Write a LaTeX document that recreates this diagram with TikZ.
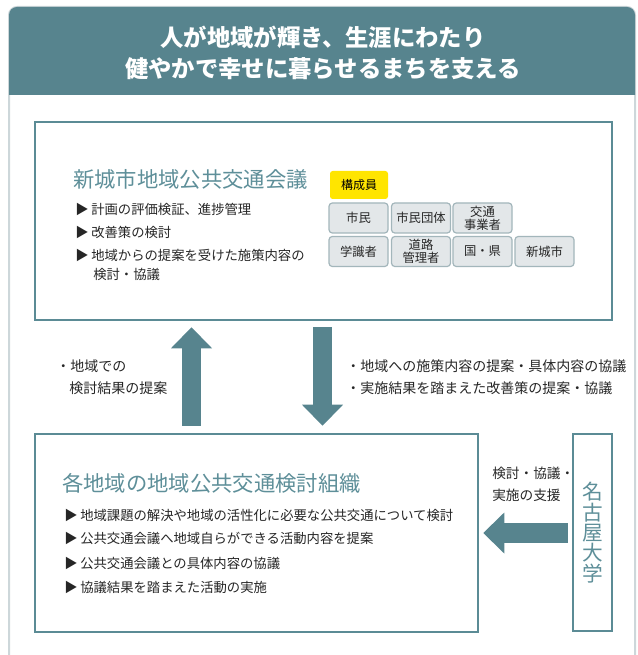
\documentclass[tikz,border=0pt]{standalone}
\usepackage{fontspec}
\setmainfont{Noto Sans CJK JP}
\usetikzlibrary{arrows.meta,positioning,calc}
\definecolor{nsTeal}{HTML}{57848E}
\definecolor{nsLine}{HTML}{5B8B95}
\definecolor{nsTitle}{HTML}{5E8F99}
\definecolor{nsFrame}{HTML}{CDD7DA}
\definecolor{nsGray}{HTML}{E3E7E9}
\definecolor{nsGrayLine}{HTML}{A3B6BB}
\definecolor{nsYellow}{HTML}{FFE500}
\definecolor{nsText}{HTML}{262626}
\newdimen\pxu \pxu=0.75pt
\newcommand{\bulmark}{▶\hspace{2pt}}
\tikzset{
  frameline/.style={draw=nsFrame, line width=1.5pt},
  headtext/.style={text=white, align=center, inner sep=0pt, font=\fontsize{17.5}{23.25}\selectfont\bfseries},
  orgbox/.style={draw=nsLine, line width=1.9pt, fill=white, inner sep=0pt},
  keybox/.style={fill=nsYellow, rounded corners=2pt, minimum width=58\pxu, minimum height=28\pxu, inner sep=0pt, font=\fontsize{9}{9.75}\selectfont},
  member/.style={draw=nsGrayLine, fill=nsGray, rounded corners=2.5pt, line width=0.9pt, minimum width=59\pxu, minimum height=30\pxu, inner sep=0pt, align=center, text=nsText, font=\fontsize{9.25}{9.75}\selectfont},
  titletext/.style={anchor=west, inner sep=0pt, text=nsTitle, font=\fontsize{16}{16}\selectfont},
  bul/.style={anchor=west, inner sep=0pt, text=nsText, font=\fontsize{10}{12}\selectfont},
  note/.style={anchor=west, inner sep=0pt, text=nsText, font=\fontsize{10.5}{12}\selectfont},
  blockarr/.style={draw=nsTeal, line width=14.25pt, -{Triangle[length=15.75pt, width=30.75pt, line width=0pt]}}
}
\begin{document}
\begin{tikzpicture}[x=0.75pt,y=-0.75pt]
  \useasboundingbox (0,0) rectangle (637,655);
  % frame and goal header
  \draw[frameline, rounded corners=6pt] (9,670) -- (9,7) -- (635,7) -- (635,670);
  \fill[nsTeal] (9,95) [rounded corners=6pt] -- (9,7) -- (635,7) [sharp corners] -- (635,95) -- cycle;
  \node[headtext] (goal) at (323,52.5) {人が地域が輝き、生涯にわたり\\健やかで幸せに暮らせるまちを支える};

  % council
  \node[orgbox, minimum width=577\pxu, minimum height=198\pxu] (council) at (323.5,221) {};
  \node[titletext] (ctitle) at (73,179) {新城市地域公共交通会議};
  \node[bul] (c1) at (75,209) {\bulmark 計画の評価検証、進捗管理};
  \node[bul] (c2) at (75,232) {\bulmark 改善策の検討};
  \node[bul] (c3) at (75,255) {\bulmark 地域からの提案を受けた施策内容の};
  \node[bul] (c3b) at (93,274) {検討・協議};

  \node[keybox] (mem) at (359,185) {構成員};
  \foreach \nm/\xx/\yy/\txt in {citizen/358.5/218/市民, group/421/218/市民団体, operator/482.5/218/{交通\\事業者},
      expert/358.5/251.5/学識者, road/421/251.5/{道路\\管理者}, gov/482.5/251.5/国・県, city/544.5/251.5/新城市}
    \node[member] (\nm) at (\xx,\yy) {\txt};

  % local organisation
  \node[orgbox, minimum width=443\pxu, minimum height=198\pxu] (local) at (256.5,533) {};
  \node[titletext] (ltitle) at (62,483) {各地域の地域公共交通検討組織};
  \node[bul] (l1) at (64,515) {\bulmark 地域課題の解決や地域の活性化に必要な公共交通について検討};
  \node[bul] (l2) at (64,538) {\bulmark 公共交通会議へ地域自らができる活動内容を提案};
  \node[bul] (l3) at (64,563) {\bulmark 公共交通会議との具体内容の協議};
  \node[bul] (l4) at (64,587) {\bulmark 協議結果を踏まえた活動の実施};

  % university
  \node[orgbox, minimum width=39\pxu, minimum height=197\pxu, align=center, text=nsTitle, font=\fontsize{15.5}{15.25}\selectfont] (nagoya) at (592.5,532.5) {名\\古\\屋\\大\\学};

  % block arrows
  \coordinate (upx) at (191.5,0);
  \coordinate (downx) at (322.5,0);
  \coordinate (lefty) at (0,533);
  \draw[blockarr, shorten <=5.25pt, shorten >=4.5pt] (upx |- local.north) -- (upx |- council.south);
  \draw[blockarr, shorten <=4.5pt, shorten >=5.25pt] (downx |- council.south) -- (downx |- local.north);
  \draw[blockarr, line width=15pt, shorten <=3pt, shorten >=3pt] (nagoya.west |- lefty) -- (local.east |- lefty);

  \node[note] (up1) at (56,366) {・地域での};
  \node[note] (up2) at (69,388) {検討結果の提案};
  \node[note] (dn1) at (346,366) {・地域への施策内容の提案・具体内容の協議};
  \node[note] (dn2) at (346,388) {・実施結果を踏まえた改善策の提案・協議};
  \node[note, font=\fontsize{10.25}{12}\selectfont] (sup1) at (492,473) {検討・協議・};
  \node[note, font=\fontsize{10.25}{12}\selectfont] (sup2) at (492,495) {実施の支援};
\end{tikzpicture}
\end{document}
